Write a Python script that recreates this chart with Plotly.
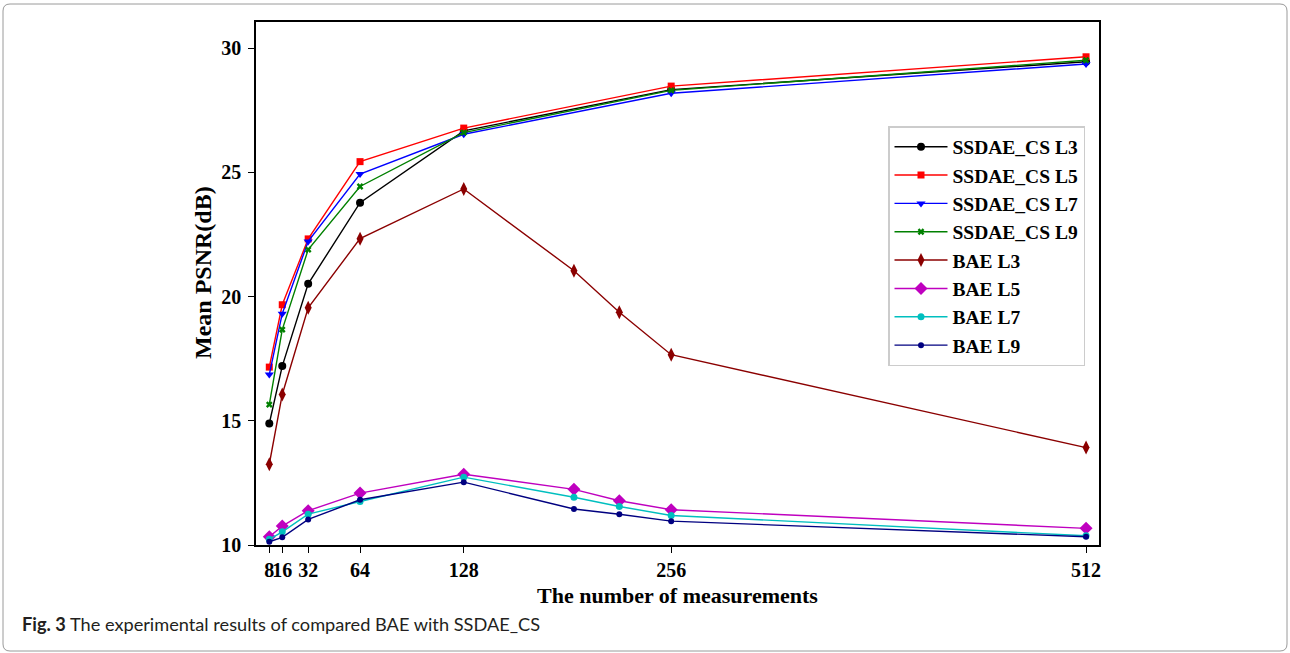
import plotly.graph_objects as go

# ---------------- data ----------------
x_ssdae = [8, 16, 32, 64, 128, 256, 512]
x_bae = [8, 16, 32, 64, 128, 196, 224, 256, 512]

ssdae_l3 = [14.89, 17.20, 20.51, 23.78, 26.67, 28.33, 29.45]
ssdae_l5 = [17.16, 19.67, 22.32, 25.43, 26.78, 28.47, 29.65]
ssdae_l7 = [16.86, 19.31, 22.22, 24.93, 26.53, 28.18, 29.36]
ssdae_l9 = [15.65, 18.67, 21.89, 24.43, 26.60, 28.30, 29.51]

bae_l3 = [13.25, 16.06, 19.55, 22.33, 24.33, 21.04, 19.37, 17.66, 13.92]
bae_l5 = [10.33, 10.76, 11.38, 12.09, 12.85, 12.24, 11.78, 11.42, 10.67]
bae_l7 = [10.23, 10.53, 11.24, 11.75, 12.73, 11.92, 11.55, 11.19, 10.37]
bae_l9 = [10.13, 10.31, 11.03, 11.82, 12.53, 11.45, 11.24, 10.96, 10.33]

x_ticks = [8, 16, 32, 64, 128, 256, 512]
y_ticks = [10, 15, 20, 25, 30]

names = ["SSDAE_CS L3", "SSDAE_CS L5", "SSDAE_CS L7", "SSDAE_CS L9",
         "BAE L3", "BAE L5", "BAE L7", "BAE L9"]

# ---------------- layout geometry (pixels) ----------------
W, H = 1290, 653
L, R, T, B = 256, 1099, 22, 545   # plot area edges in px

def px(x):
    return (x - L) / (R - L)

def py(y):
    return (B - y) / (B - T)

SERIF = "Liberation Serif, Times New Roman, serif"

fig = go.Figure()

styles = [
    (x_ssdae, ssdae_l3, "black", "circle", 8),
    (x_ssdae, ssdae_l5, "#ff0000", "square", 7),
    (x_ssdae, ssdae_l7, "#0000ff", "triangle-down", 8),
    (x_ssdae, ssdae_l9, "#008000", "x", 6),
    (x_bae, bae_l3, "#8b0000", "diamond-tall", 10),
    (x_bae, bae_l5, "#bf00bf", "diamond", 10),
    (x_bae, bae_l7, "#00bfbf", "circle", 7),
    (x_bae, bae_l9, "#000080", "circle", 6),
]

for (xs, ys, col, sym, size), nm in zip(styles, names):
    fig.add_trace(go.Scatter(
        x=xs, y=ys, name=nm, mode="lines+markers",
        line=dict(color=col, width=1.4),
        marker=dict(color=col, symbol=sym, size=size, line=dict(width=0)),
        cliponaxis=False,
    ))

# rounded outer frame
r = 7
x0, x1, y0, y1 = 3, 1287, 4, 651
path = (f"M {px(x0 + r)} {py(y0)} L {px(x1 - r)} {py(y0)} "
        f"Q {px(x1)} {py(y0)} {px(x1)} {py(y0 + r)} "
        f"L {px(x1)} {py(y1 - r)} Q {px(x1)} {py(y1)} {px(x1 - r)} {py(y1)} "
        f"L {px(x0 + r)} {py(y1)} Q {px(x0)} {py(y1)} {px(x0)} {py(y1 - r)} "
        f"L {px(x0)} {py(y0 + r)} Q {px(x0)} {py(y0)} {px(x0 + r)} {py(y0)} Z")

fig.update_layout(
    width=W, height=H,
    margin=dict(l=L, r=W - R, t=T, b=H - B, pad=0),
    paper_bgcolor="white", plot_bgcolor="white",
    showlegend=True,
    legend=dict(
        x=px(888), y=py(126), xanchor="left", yanchor="top",
        bgcolor="white", bordercolor="#cccccc", borderwidth=1.5,
        font=dict(family=SERIF, size=19.5, color="black", weight="bold"),
        itemwidth=53,
    ),
    shapes=[dict(type="path", xref="paper", yref="paper", path=path,
                 line=dict(color="#9a9a9a", width=1), fillcolor="rgba(0,0,0,0)",
                 layer="below")],
    annotations=[
        dict(text="<b>Mean PSNR(dB)</b>", xref="paper", yref="paper",
             x=px(203), y=py(273), textangle=-90, showarrow=False,
             xanchor="center", yanchor="middle",
             font=dict(family=SERIF, size=24, color="black")),
        dict(text="<b>The number of measurements</b>", xref="paper", yref="paper",
             x=px(677), y=py(595), showarrow=False,
             xanchor="center", yanchor="middle",
             font=dict(family=SERIF, size=22, color="black")),
        dict(text="<b>Fig. 3</b> The experimental results of compared BAE with SSDAE_CS",
             xref="paper", yref="paper", x=px(20), y=py(624), showarrow=False,
             xanchor="left", yanchor="middle",
             font=dict(family="Lato, Open Sans, sans-serif", size=18.2, color="#231f20")),
    ],
)

axis_common = dict(
    showgrid=False, zeroline=False, showline=True, linecolor="black", linewidth=1.6,
    mirror=True, ticks="outside", ticklen=6, tickwidth=1.4, tickcolor="black",
    tickfont=dict(family=SERIF, size=20, color="black", weight="bold"),
)
fig.update_xaxes(range=[-0.2, 520], tickmode="array", tickvals=x_ticks,
                 ticktext=[str(v) for v in x_ticks], tickangle=0, **axis_common)
fig.update_yaxes(range=[10, 31.05], tickmode="array", tickvals=y_ticks,
                 ticktext=[str(v) for v in y_ticks], ticklabelstandoff=3, **axis_common)

fig.write_html("out.html")
